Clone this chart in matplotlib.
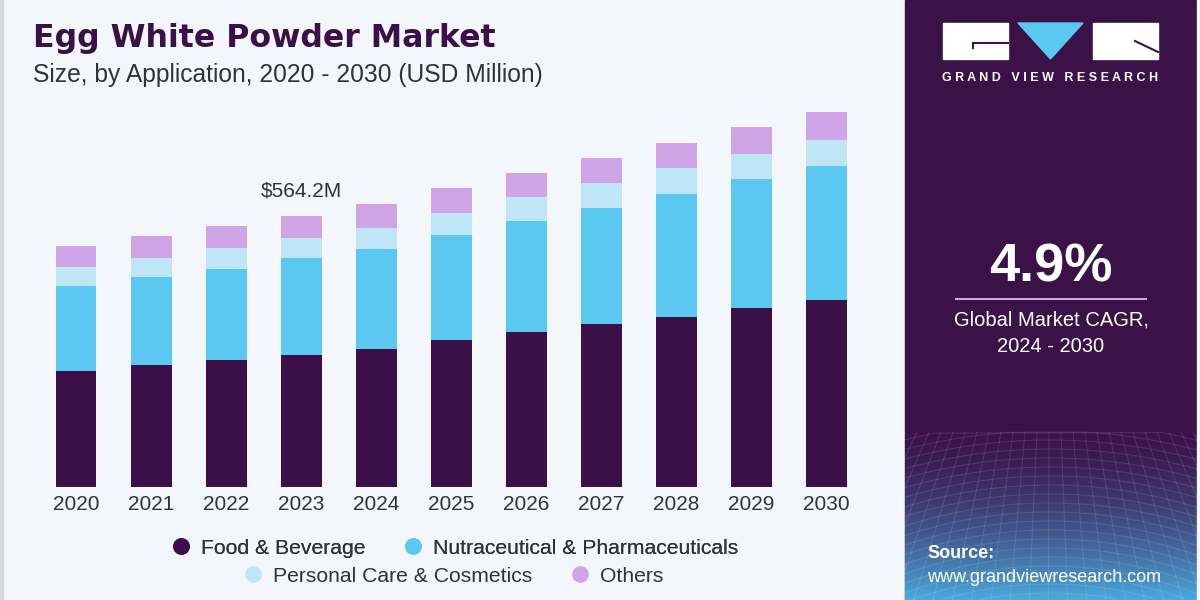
import numpy as np
import matplotlib
matplotlib.use("Agg")
import matplotlib.pyplot as plt
from matplotlib.patches import Rectangle, Polygon
from matplotlib.lines import Line2D

# data (USD million)
years = ["2020", "2021", "2022", "2023", "2024", "2025", "2026", "2027", "2028", "2029", "2030"]
food = [241.5, 252.7, 263.8, 274.8, 287.3, 305.4, 321.5, 338.7, 353.9, 372.0, 388.7]
nutra = [176.3, 183.2, 190.1, 201.3, 207.6, 218.6, 232.4, 242.1, 255.5, 268.0, 278.4]
personal = [40.2, 40.8, 42.5, 41.6, 44.3, 45.2, 48.7, 50.8, 53.5, 52.7, 54.8]
others = [43.7, 44.6, 47.1, 46.4, 48.7, 52.1, 50.0, 53.3, 53.3, 56.2, 57.7]
series_names = ["Food & Beverage", "Nutraceutical & Pharmaceuticals",
                "Personal Care & Cosmetics", "Others"]
highlight_year = "2023"
highlight_label = "$564.2M"
cagr = "4.9%"

colors = ["#3b0f48", "#5bc8f2", "#bfe6f7", "#d0a5e8"]
bg = "#f3f6fa"
panel = "#3a1248"
txt = "#333333"
plt.rcParams["font.family"] = ["Liberation Sans", "DejaVu Sans"]

fig = plt.figure(figsize=(12, 6), dpi=100, facecolor=bg)

# decoration layer in pixel coords
deco = fig.add_axes([0, 0, 1, 1], zorder=0)
deco.set_xlim(0, 1200)
deco.set_ylim(600, 0)
deco.axis("off")
deco.add_patch(Rectangle((0, 0), 3, 600, color="#d6dae0"))
deco.add_patch(Rectangle((905, 0), 295, 600, color=panel))

# bottom gradient of the side panel
top_c = np.array(matplotlib.colors.to_rgb(panel))
bot_c = np.array(matplotlib.colors.to_rgb("#4aa8dc"))
t = np.linspace(0, 1, 100)[:, None, None] ** 1.6
grad = top_c * (1 - t) + bot_c * t
deco.imshow(grad, extent=(905, 1200, 600, 425), aspect="auto", zorder=1)
# faint perspective grid
for k in range(-14, 30):
    xs = np.linspace(905, 1200, 40)
    ys = 440 + k * 9 + 0.0009 * (xs - 1050) ** 2 * (1 + k * 0.03)
    m = (ys > 432) & (ys < 600)
    deco.plot(xs[m], ys[m], color="white", alpha=0.11, lw=0.8, zorder=2)
for k in range(-10, 40):
    x0 = 905 + k * 12
    deco.plot([x0, x0 + (x0 - 1050) * 0.6], [432, 600], color="white", alpha=0.11, lw=0.8, zorder=2)
deco.add_patch(Rectangle((1197, 0), 3, 600, color=bg, zorder=3))

# logo
deco.add_patch(Rectangle((943, 23), 65, 36, color="white", zorder=4))
deco.add_patch(Rectangle((1093, 23), 65, 36, color="white", zorder=4))
deco.add_patch(Polygon([(1018, 23), (1083, 23), (1050.5, 59)], color="#5bc8f2", zorder=4))
deco.plot([973, 1008], [42.5, 42.5], color=panel, lw=1.5, zorder=5)
deco.plot([973, 973], [42.5, 47.5], color=panel, lw=1.5, zorder=5)
deco.plot([1135, 1158], [41, 52], color=panel, lw=1.5, zorder=5)
deco.text(1050.5, 78, "G R A N D   V I E W   R E S E A R C H", color="white", fontsize=9,
          fontweight="bold", ha="center", va="center", zorder=5)

deco.text(1051, 268, cagr, color="white", fontsize=39, fontweight="bold",
          ha="center", va="center", zorder=5)
deco.plot([956, 1146], [298.5, 298.5], color="#c9a6e0", lw=1.5, zorder=5)
deco.text(1051, 320, "Global Market CAGR,", color="white", fontsize=14.5,
          ha="center", va="center", zorder=5)
deco.text(1051, 347, "2024 - 2030", color="white", fontsize=14.5,
          ha="center", va="center", zorder=5)
deco.text(927, 553, "Source:", color="white", fontsize=13, fontweight="bold",
          ha="left", va="center", zorder=5)
deco.text(927, 577, "www.grandviewresearch.com", color="white", fontsize=13,
          ha="left", va="center", zorder=5)

# titles
deco.text(33, 39, "Egg White Powder Market", color="#3b0f48", fontsize=22.8,
          fontweight="bold", family="DejaVu Sans", ha="left", va="center")
deco.text(33, 75, "Size, by Application, 2020 - 2030 (USD Million)", color=txt,
          fontsize=17.7, ha="left", va="center")

# bar chart
ax = fig.add_axes([19.7 / 1200, 113.3 / 600, 863.3 / 1200, 386.7 / 600], zorder=2)
ax.patch.set_alpha(0)
x = np.arange(len(years))
bottom = np.zeros(len(years))
for vals, c, name in zip([food, nutra, personal, others], colors, series_names):
    ax.bar(x, vals, width=0.546, bottom=bottom, color=c, label=name)
    bottom += np.array(vals)
ax.set_xlim(-0.75, 10.75)
ax.set_ylim(0, 805)
ax.set_xticks(x)
ax.set_xticklabels(years, fontsize=15, color=txt)
ax.tick_params(axis="x", length=0, pad=6)
ax.set_yticks([])
for s in ax.spines.values():
    s.set_visible(False)

hi = years.index(highlight_year)
ax.annotate(highlight_label, (x[hi], bottom[hi]), xytext=(0, 18), textcoords="offset points",
            ha="center", va="center", fontsize=15, color=txt)

# legend
handles = [Line2D([], [], marker="o", ls="", color=c, markersize=11) for c in colors]
leg_kw = dict(loc="center", ncol=2, frameon=False, fontsize=15.2, handletextpad=0.15,
              columnspacing=1.45, handlelength=1.6, labelcolor=txt)
leg1 = fig.legend(handles[:2], series_names[:2], bbox_to_anchor=(451 / 1200, 1 - 548 / 600), **leg_kw)
fig.legend(handles[2:], series_names[2:], bbox_to_anchor=(450 / 1200, 1 - 576 / 600), **leg_kw)
fig.add_artist(leg1)

fig.savefig("out.png", dpi=100, facecolor=bg)
